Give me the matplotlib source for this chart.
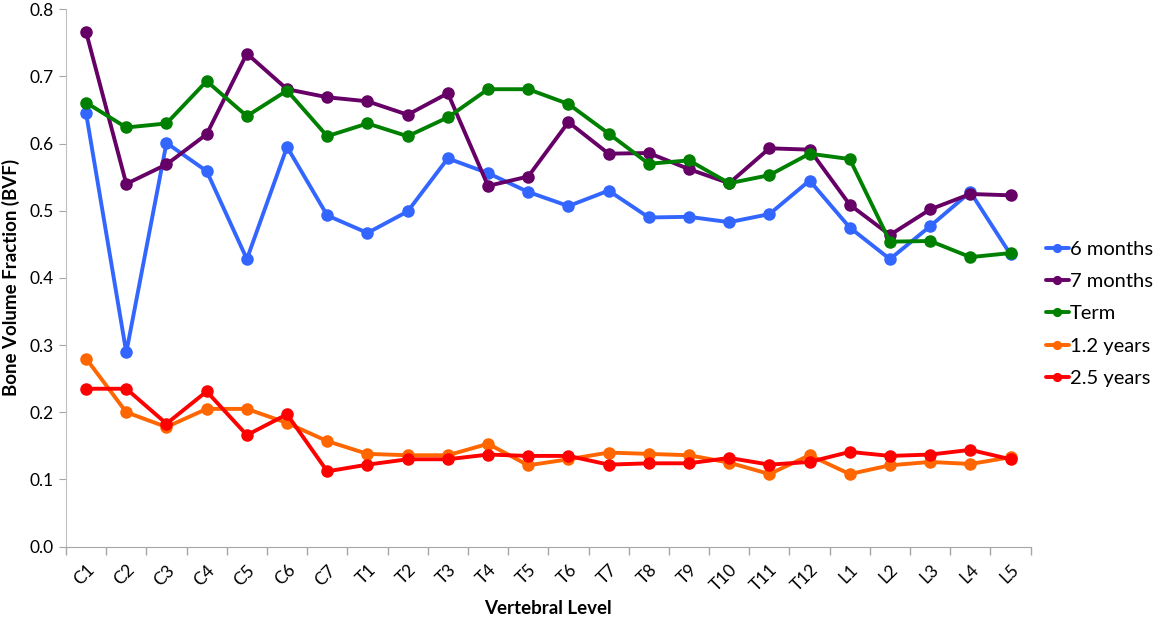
import matplotlib
matplotlib.use("Agg")
import matplotlib.pyplot as plt
from matplotlib.ticker import FixedLocator, FormatStrFormatter

levels = ["C1", "C2", "C3", "C4", "C5", "C6", "C7",
          "T1", "T2", "T3", "T4", "T5", "T6", "T7", "T8", "T9", "T10", "T11", "T12",
          "L1", "L2", "L3", "L4", "L5"]

months6 = [0.645, 0.289, 0.601, 0.559, 0.428, 0.595, 0.493, 0.467, 0.499, 0.578, 0.556, 0.528,
           0.507, 0.530, 0.490, 0.491, 0.483, 0.495, 0.545, 0.475, 0.428, 0.477, 0.528, 0.435]
months7 = [0.766, 0.540, 0.569, 0.614, 0.734, 0.681, 0.669, 0.663, 0.643, 0.675, 0.537, 0.551,
           0.632, 0.585, 0.586, 0.562, 0.541, 0.593, 0.591, 0.509, 0.464, 0.502, 0.525, 0.523]
term = [0.661, 0.624, 0.630, 0.693, 0.641, 0.679, 0.611, 0.630, 0.611, 0.639, 0.681, 0.681,
        0.659, 0.615, 0.570, 0.575, 0.541, 0.553, 0.585, 0.577, 0.454, 0.455, 0.431, 0.437]
years12 = [0.280, 0.200, 0.178, 0.205, 0.205, 0.184, 0.157, 0.138, 0.136, 0.136, 0.153, 0.121,
           0.130, 0.140, 0.138, 0.136, 0.125, 0.108, 0.136, 0.108, 0.121, 0.126, 0.123, 0.133]
years25 = [0.235, 0.235, 0.183, 0.231, 0.166, 0.197, 0.112, 0.122, 0.130, 0.130, 0.137, 0.135,
           0.135, 0.122, 0.124, 0.124, 0.132, 0.122, 0.126, 0.141, 0.135, 0.137, 0.144, 0.130]

series = [("6 months", months6, "#3366FF"),
          ("7 months", months7, "#660066"),
          ("Term", term, "#008000"),
          ("1.2 years", years12, "#FF6600"),
          ("2.5 years", years25, "#FF0000")]

plt.rcParams['font.family'] = ['Lato', 'DejaVu Sans']

fig = plt.figure(figsize=(11.58, 6.19), dpi=100)
ax = fig.add_axes([0.057, 0.117, 0.833, 0.868])

x = list(range(len(levels)))
for name, vals, col in series:
    ax.plot(x, vals, color=col, lw=2.8, marker='o', markersize=8, label=name,
            solid_capstyle='round')

ax.set_xlim(-0.5, len(levels) - 0.5)
ax.set_ylim(0, 0.8)
ax.set_yticks([i / 10 for i in range(9)])
ax.yaxis.set_major_formatter(FormatStrFormatter('%.1f'))
ax.set_xticks(x)
ax.set_xticklabels(levels, rotation=45, ha='right', rotation_mode='anchor', fontsize=12.5)
ax.tick_params(axis='x', which='major', length=0, pad=11)
ax.xaxis.set_minor_locator(FixedLocator([i - 0.5 for i in range(len(levels) + 1)]))
ax.tick_params(axis='x', which='minor', length=6, color='#A6A6A6', width=1)
ax.tick_params(axis='y', length=5, color='#A6A6A6', labelsize=12.5, pad=4)

for s in ['top', 'right']:
    ax.spines[s].set_visible(False)
ax.spines['left'].set_color('#BFBFBF')
ax.spines['bottom'].set_color('#A6A6A6')

ax.set_ylabel("Bone Volume Fraction (BVF)", fontsize=13.5, fontweight='bold', labelpad=7)
ax.set_xlabel("Vertebral Level", fontsize=13.5, fontweight='bold', labelpad=4)

leg = ax.legend(loc='center left', bbox_to_anchor=(0.997, 0.433), frameon=False,
                fontsize=14.5, handlelength=1.15, handletextpad=0.05, labelspacing=0.76,
                markerscale=0.7)

fig.savefig("out.png", dpi=100)
